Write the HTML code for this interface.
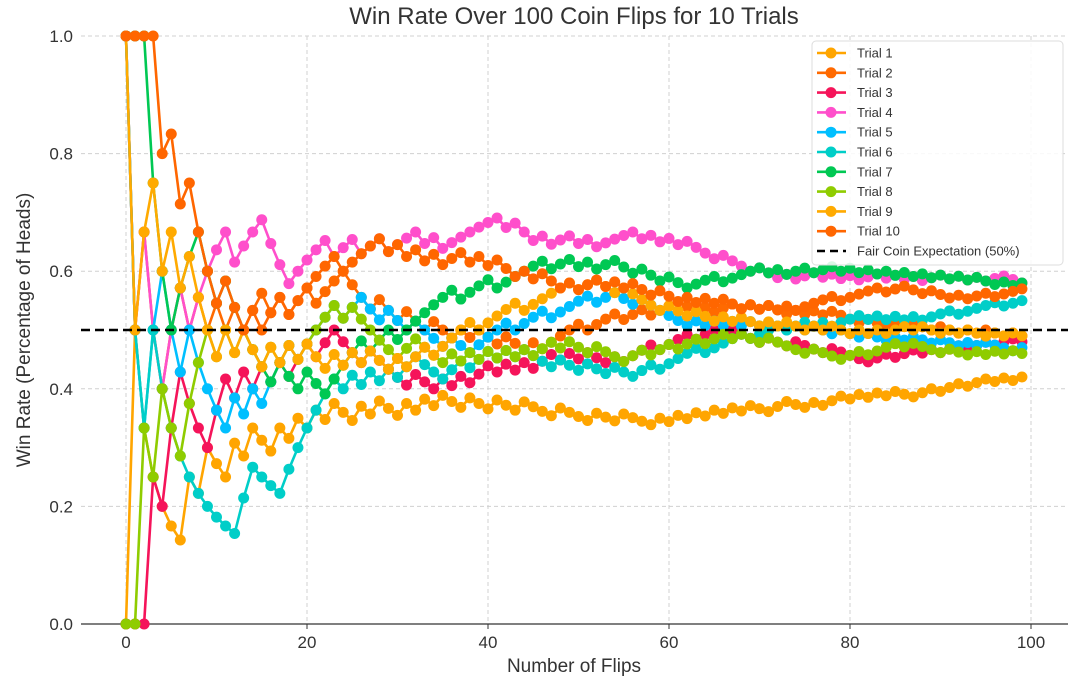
<!DOCTYPE html>
<html><head><meta charset="utf-8">
<style>
body{margin:0;background:#fff;}
svg text{font-family:"Liberation Sans","DejaVu Sans",sans-serif;}
</style></head>
<body>
<svg id="chart" width="1080" height="691" viewBox="0 0 1080 691" xmlns="http://www.w3.org/2000/svg">
<rect width="1080" height="691" fill="#fff"/>
<text x="574" y="24" text-anchor="middle" font-size="24" fill="#333">Win Rate Over 100 Coin Flips for 10 Trials</text>
<g id="grid"></g>
<g id="axes"></g>
<g id="series"></g>
<text x="574" y="672" text-anchor="middle" font-size="19" fill="#333">Number of Flips</text>
<text transform="translate(30,330) rotate(-90)" text-anchor="middle" font-size="19" fill="#333">Win Rate (Percentage of Heads)</text>
<g id="legend"></g>
</svg>
<script>
// Flip outcomes (1 = heads), one string per trial
const trialNames = ["Trial 1","Trial 2","Trial 3","Trial 4","Trial 5","Trial 6","Trial 7","Trial 8","Trial 9","Trial 10"];
const trialColors = ["#FFA500","#FF6A00","#F5145A","#FF4FCB","#00BFFF","#00CEC8","#00C853","#8FCC00","#FFAA00","#FF6600"];
const flips1 = "010000010100101001010"+"101001010010101001"+"0010010"+"001000100100010"+"1010101010"+"0110010110"+"1010100110"+"110110101";
const flips2 = "10100110101010110"+"101101110"+"0010010010"+"010100100101"+"1110111011011"+"01010110101001010100"+"0100101001001010010";
const flips3 = "0001011000110"+"1010101"+"10110"+"0010000100"+"10101101010"+"11010100101"+"110111011"+"01000100100010000"+"11011010110110110";
const flips4 = "10100110"+"1111011100011110110"+"11011"+"1010111111"+"0100101101011110101"+"010001000100"+"101101010110101011010101100";
const flips5 = "1001100100001010"+"11101"+"111011"+"0010010001001"+"111011101111011"+"00100000"+"101010100101010"+"0100100101001001010001";
const flips6 = "1001000000000110001111"+"1101"+"0101011"+"000"+"11011"+"01010"+"00100"+"10010"+"01101"+"111011"+"1101"+"1101101011"+"101010101"+"1101111011";
const flips7 = "1110001110010"+"000010010011"+"1"+"101101"+"11111"+"0111"+"01111"+"1011010110"+"01001001"+"11011"+"110101101101"+"0101010101"+"010100101";
const flips8 = "001010011"+"101010010101"+"111"+"010"+"0000"+"110"+"0010"+"10101010"+"1101"+"001000"+"110"+"1101101101"+"00100001000"+"110111"+"01000100"+"101010";
const flips9 = "1011010100"+"0101001010100101010010110"+"111101111011111011"+"0010000100"+"1001010010100"+"101001010110100101001010";
const flips10 = "11110101000100"+"10110111110111101"+"01010110101"+"0010100101101010010"+"010101001010101"+"11101111011"+"0010010110111";
const allFlips = [flips1,flips2,flips3,flips4,flips5,flips6,flips7,flips8,flips9,flips10];
const xTicks = [0,20,40,60,80,100];
const yTicks = [0.0,0.2,0.4,0.6,0.8,1.0];
const fairRate = 0.5;

const NS="http://www.w3.org/2000/svg";
const X0=126, X1=1031, Y0=624, Y1=36, L=81, R=1068;
function xs(v){return X0+(X1-X0)*v/100;}
function ys(v){return Y0-(Y0-Y1)*v;}
function mk(tag,attrs,parent){const e=document.createElementNS(NS,tag);for(const k in attrs)e.setAttribute(k,attrs[k]);parent.appendChild(e);return e;}

const grid=document.getElementById('grid'), axes=document.getElementById('axes');
xTicks.forEach(t=>{
  const l=mk('line',{x1:xs(t),x2:xs(t),y1:Y1,y2:Y0,stroke:'#d0d0d0','stroke-dasharray':'4,3','stroke-width':1},grid);
  
  
  const tk=mk('line',{x1:xs(t),x2:xs(t),y1:Y0,y2:Y0+5,stroke:'#333'},axes);
  
  
  const tx=mk('text',{x:xs(t),y:Y0+24,'text-anchor':'middle','font-size':17,fill:'#333'},axes);
  tx.textContent=t;
  
  
});
yTicks.forEach(t=>{
  const l=mk('line',{x1:L,x2:R,y1:ys(t),y2:ys(t),stroke:'#d0d0d0','stroke-dasharray':'4,3','stroke-width':1},grid);
  
  
  const tx=mk('text',{x:L-8,y:ys(t)+6,'text-anchor':'end','font-size':17,fill:'#333'},axes);
  tx.textContent=t.toFixed(1);
  
  
});
const sp=mk('line',{x1:L,x2:R,y1:Y0,y2:Y0,stroke:'#333','stroke-width':1.2},axes);



const series=document.getElementById('series');
allFlips.forEach((f,ti)=>{
  const g=mk('g',{},series);
  
  
  let h=0; const pts=[];
  for(let i=0;i<f.length;i++){h+=+f[i];pts.push([xs(i),ys(h/(i+1))]);}
  const pl=mk('polyline',{points:pts.map(p=>p.join(',')).join(' '),fill:'none',stroke:trialColors[ti],'stroke-width':2.6,'stroke-linejoin':'round'},g);
  
  
  pts.forEach(p=>{
    const c=mk('circle',{cx:p[0],cy:p[1],r:5.5,fill:trialColors[ti]},g);
    
    
  });
});
const fl=mk('line',{x1:L,x2:R,y1:ys(fairRate),y2:ys(fairRate),stroke:'#000','stroke-width':2.6,'stroke-dasharray':'9,5'},series);



const leg=document.getElementById('legend');
const lb=mk('rect',{x:812,y:41,width:251,height:224,rx:4,fill:'#fff','fill-opacity':0.85,stroke:'#ddd'},leg);


trialNames.concat(["Fair Coin Expectation (50%)"]).forEach((n,i)=>{
  const y=53+i*19.8;
  const g=mk('g',{},leg);
  
  
  if(i<10){
    mk('line',{x1:817,x2:846,y1:y,y2:y,stroke:trialColors[i],'stroke-width':2.6},g);
    mk('circle',{cx:831,cy:y,r:5.5,fill:trialColors[i]},g);
  } else {
    mk('line',{x1:817,x2:846,y1:y,y2:y,stroke:'#000','stroke-width':2.6,'stroke-dasharray':'8,5'},g);
  }
  const t=mk('text',{x:857,y:y+4.5,'font-size':13,fill:'#333'},g);
  t.textContent=n;
});
</script>
</body></html>
